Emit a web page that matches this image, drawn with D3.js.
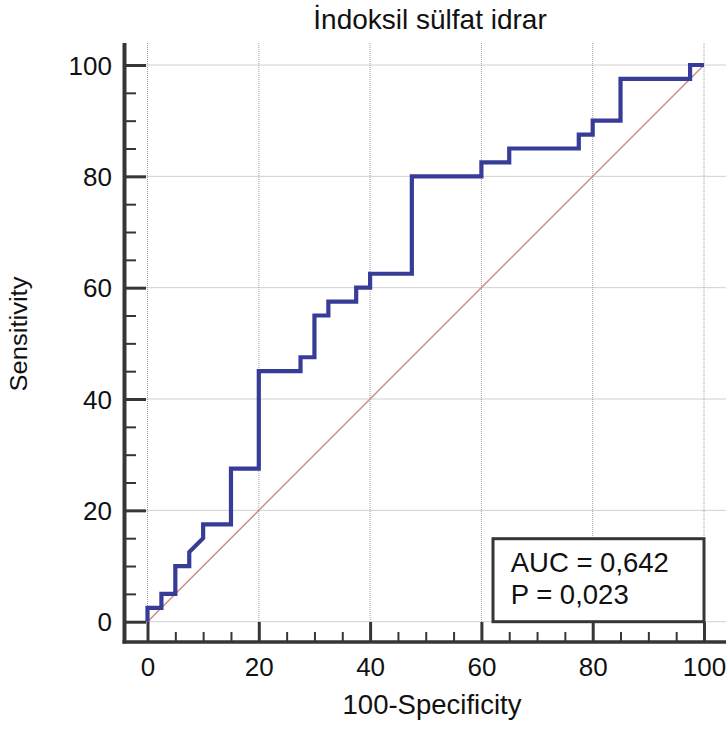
<!DOCTYPE html>
<html>
<head>
<meta charset="utf-8">
<script src="https://cdn.jsdelivr.net/npm/d3@7"></script>
<style>
  html, body { margin: 0; padding: 0; background: #fff; }
  svg { display: block; }
  text { font-family: "Liberation Sans", Arial, sans-serif; fill: #111; }
</style>
</head>
<body>
<svg id="chart" width="726" height="733"></svg>
<script>
// ---- data ----
const title = "İndoksil sülfat idrar";
const xTitle = "100-Specificity";
const yTitle = "Sensitivity";
const fpr = [0, 0, 2.5, 2.5, 5, 5, 7.5, 7.5, 10, 10, 15, 15, 20, 20, 27.5, 27.5, 30, 30, 32.5, 32.5, 37.5, 37.5, 40, 40, 47.5, 47.5, 60, 60, 65, 65, 77.5, 77.5, 80, 80, 85, 85, 97.5, 97.5, 100];
const tpr = [0, 2.5, 2.5, 5, 5, 10, 10, 12.5, 15, 17.5, 17.5, 27.5, 27.5, 45, 45, 47.5, 47.5, 55, 55, 57.5, 57.5, 60, 60, 62.5, 62.5, 80, 80, 82.5, 82.5, 85, 85, 87.5, 87.5, 90, 90, 97.5, 97.5, 100, 100];
const majorTicks = [0, 20, 40, 60, 80, 100];
const minorTicks = [5, 10, 15, 25, 30, 35, 45, 50, 55, 65, 70, 75, 85, 90, 95];
const statLines = ["AUC = 0,642", "P = 0,023"];

// ---- layout ----
const W = 726, H = 733;
const axisX = 124.5;   // y-axis line position
const axisY = 642;     // x-axis line position
const plotTop = 43;

const x = d3.scaleLinear().domain([0, 100]).range([147.5, 704]);
const y = d3.scaleLinear().domain([0, 100]).range([621.7, 65]);

const svg = d3.select("#chart");

// grid
const grid = svg.append("g").attr("stroke", "#a0a0a0").attr("stroke-width", 1).attr("stroke-dasharray", "1,1");
grid.selectAll("line.v").data(majorTicks).join("line")
  .attr("x1", d => x(d)).attr("x2", d => x(d))
  .attr("y1", plotTop).attr("y2", axisY);
grid.selectAll("line.h").data(majorTicks).join("line")
  .attr("x1", axisX).attr("x2", W)
  .attr("y1", d => y(d)).attr("y2", d => y(d));

// diagonal reference
svg.append("line")
  .attr("x1", x(0)).attr("y1", y(0)).attr("x2", x(100)).attr("y2", y(100))
  .attr("stroke", "#c98a8a").attr("stroke-width", 1.4);

// ROC curve
const pts = fpr.map((f, i) => [f, tpr[i]]);
svg.append("path")
  .datum(pts)
  .attr("fill", "none")
  .attr("stroke", "#373c98")
  .attr("stroke-width", 4.2)
  .attr("stroke-linejoin", "miter")
  .attr("d", d3.line().x(d => x(d[0])).y(d => y(d[1])));

// axes
const axisColor = "#363636";
const xMajor = d3.axisBottom(x).tickValues(majorTicks).tickSizeInner(-20).tickSizeOuter(0).tickPadding(15.5);
const xMinor = d3.axisBottom(x).tickValues(minorTicks).tickSizeInner(-10).tickSizeOuter(0).tickFormat("");
const yMajor = d3.axisLeft(y).tickValues(majorTicks).tickSizeInner(-21.5).tickSizeOuter(0).tickPadding(12.5);
const yMinor = d3.axisLeft(y).tickValues(minorTicks).tickSizeInner(-11.5).tickSizeOuter(0).tickFormat("");

function styleAxis(g, w, dy) {
  g.select(".domain").remove();
  g.selectAll(".tick line").attr("stroke", axisColor).attr("stroke-width", w);
  g.selectAll(".tick text").attr("font-family", "Liberation Sans, Arial, sans-serif")
    .attr("font-size", 26).attr("fill", "#111").attr("dy", dy);
}
svg.append("g").attr("transform", `translate(0,${axisY})`).call(xMinor).call(g => styleAxis(g, 2, "0.71em"));
svg.append("g").attr("transform", `translate(0,${axisY})`).call(xMajor).call(g => styleAxis(g, 3, "0.71em"));
svg.append("g").attr("transform", `translate(${axisX},0)`).call(yMinor).call(g => styleAxis(g, 2, "0.35em"));
svg.append("g").attr("transform", `translate(${axisX},0)`).call(yMajor).call(g => styleAxis(g, 3, "0.35em"));

// axis lines
svg.append("line").attr("x1", axisX).attr("x2", axisX).attr("y1", plotTop).attr("y2", axisY + 1.5)
  .attr("stroke", axisColor).attr("stroke-width", 4);
svg.append("line").attr("x1", axisX - 2).attr("x2", W).attr("y1", axisY).attr("y2", axisY)
  .attr("stroke", axisColor).attr("stroke-width", 3.5);

// stats box
const boxW = 211, boxH = 83;
const bx = x(100) - boxW, by = y(0) - boxH;
svg.append("rect").attr("x", bx).attr("y", by).attr("width", boxW).attr("height", boxH)
  .attr("fill", "#fff").attr("stroke", axisColor).attr("stroke-width", 3);
svg.selectAll("text.stat").data(statLines).join("text")
  .attr("class", "stat")
  .attr("x", bx + 17.7)
  .attr("y", (d, i) => by + 33.4 + i * 31.6)
  .attr("font-size", 27.5)
  .text(d => d);

// titles
svg.append("text").attr("x", 430).attr("y", 29.3).attr("text-anchor", "middle")
  .attr("font-size", 28).text(title);
svg.append("text").attr("x", 432).attr("y", 714).attr("text-anchor", "middle")
  .attr("font-size", 27.5).text(xTitle);
svg.append("text").attr("transform", "translate(27,334) rotate(-90)").attr("text-anchor", "middle")
  .attr("font-size", 23).attr("textLength", 115).attr("lengthAdjust", "spacingAndGlyphs").text(yTitle);
</script>
</body>
</html>
